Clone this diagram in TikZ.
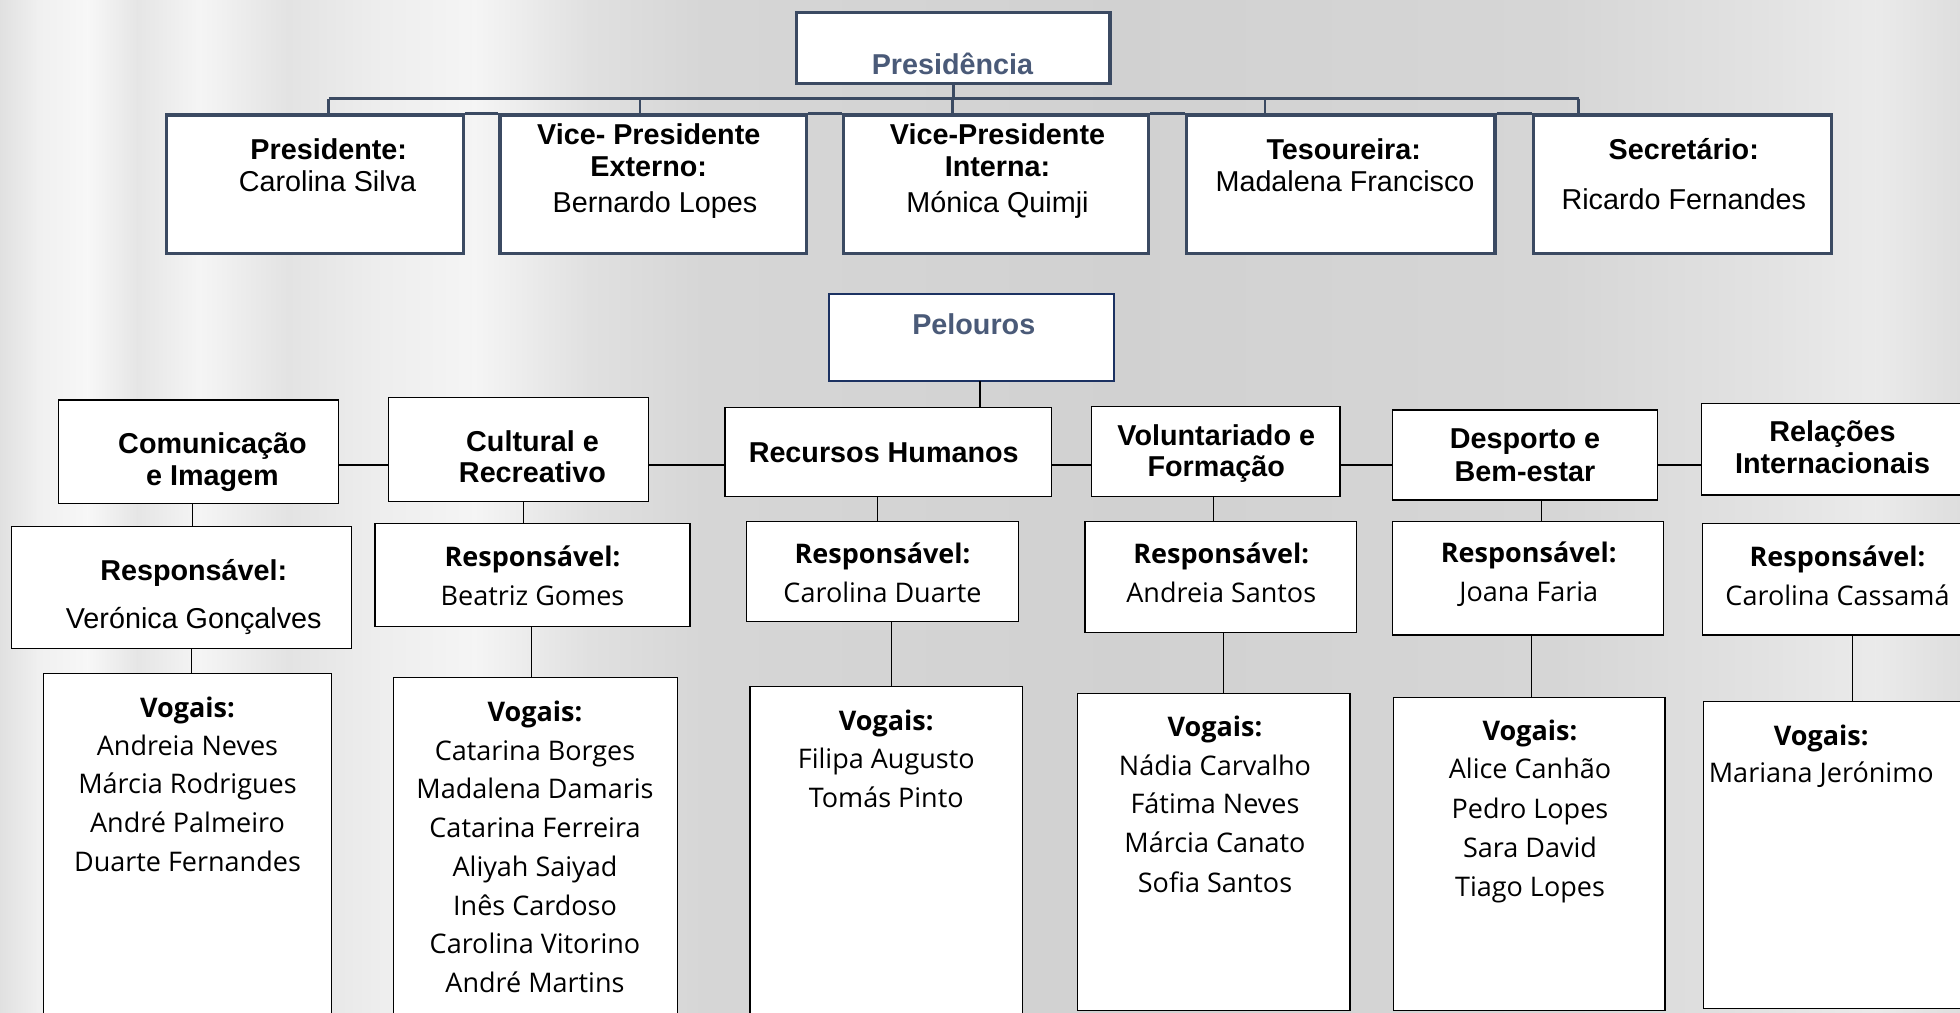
\documentclass[tikz,border=0pt]{standalone}
\usepackage{fontspec}
\setmainfont{Liberation Sans}
\newfontfamily\osans{Open Sans}
\usetikzlibrary{fit}
\definecolor{topc}{HTML}{3B4A62}
\definecolor{presc}{HTML}{4A5A78}
\definecolor{navyc}{HTML}{1C3262}
\newcommand\fA{\fontsize{23}{26}\selectfont}
\newcommand\fO{\osans\fontsize{21.6}{31}\selectfont}
\newcommand\lab[5]{\node[txt,font=#4] (#1) at (#2,{-#3-8}) {#5};}
\begin{document}
\begin{tikzpicture}[x=1pt,y=1pt,
  txt/.style={inner sep=0pt, outer sep=0pt, anchor=base},
  topbox/.style={draw=topc, line width=2.7pt, fill=white, inner sep=0pt},
  pelbox/.style={draw=navyc, line width=1.6pt, fill=white, inner sep=0pt},
  lowbox/.style={draw=black, line width=1.1pt, fill=white, inner sep=0pt},
  topline/.style={draw=topc, line width=2.2pt},
  pline/.style={draw=black, line width=1.1pt}]
\useasboundingbox (0,0) rectangle (1568,-810);
\clip (0,0) rectangle (1568,-810);
% background
\foreach \xa/\xb/\ca/\cb in {0/30/12/6, 30/70/6/3, 70/110/3/10, 110/160/10/4, 160/230/4/11,
  230/300/11/7, 300/380/7/4, 380/470/4/12, 470/560/12/16, 560/900/16/18,
  900/1250/18/16, 1250/1420/16/11, 1420/1500/11/8, 1500/1568/8/13}
  \shade[left color=black!\ca, right color=black!\cb] (\xa,0) rectangle (\xb+0.5,-810);

% top level boxes
\node[topbox, fit={(637,-10)(888,-67)}] (pres) {};
\node[topbox, fit={(133,-92)(371,-203)}] (t1) {};
\node[topbox, fit={(400,-92)(645,-203)}] (t2) {};
\node[topbox, fit={(675,-92)(919,-203)}] (t3) {};
\node[topbox, fit={(949,-92)(1196,-203)}] (t4) {};
\node[topbox, fit={(1227,-92)(1465,-203)}] (t5) {};

% pelouros
\node[pelbox, fit={(663,-235)(891,-305)}] (pel) {};
\node[lowbox, fit={(47,-320)(271,-403)}] (p1) {};
\node[lowbox, fit={(311,-318)(519,-401)}] (p2) {};
\node[lowbox, fit={(580,-326)(841,-397)}] (p3) {};
\node[lowbox, fit={(873,-325)(1072,-397)}] (p4) {};
\node[lowbox, fit={(1114,-328)(1326,-400)}] (p5) {};
\node[lowbox, fit={(1361,-323)(1580,-396)}] (p6) {};

\node[lowbox, fit={(9,-421)(281,-519)}] (r1) {};
\node[lowbox, fit={(300,-419)(552,-501)}] (r2) {};
\node[lowbox, fit={(597,-417)(815,-497)}] (r3) {};
\node[lowbox, fit={(868,-417)(1085,-506)}] (r4) {};
\node[lowbox, fit={(1114,-417)(1331,-508)}] (r5) {};
\node[lowbox, fit={(1362,-419)(1580,-508)}] (r6) {};

\node[lowbox, fit={(35,-539)(265,-814)}] (v1) {};
\node[lowbox, fit={(315,-542)(542,-814)}] (v2) {};
\node[lowbox, fit={(600,-549)(818,-814)}] (v3) {};
\node[lowbox, fit={(862,-555)(1080,-808.5)}] (v4) {};
\node[lowbox, fit={(1115,-558)(1332,-808.5)}] (v5) {};
\node[lowbox, fit={(1363,-561)(1580,-807)}] (v6) {};

% top connectors
\coordinate (barL) at (263,-79);
\coordinate (barR) at (1263,-79);
\coordinate (d2) at (512,-79);
\coordinate (d3) at (762,-79);
\coordinate (d4) at (1012,-79);
\draw[topline] (pres.south) -- (pres.south |- barL);
\draw[topline] (barL) -- (barR);
\draw[topline] (barL) -- (barL |- t1.north);
\draw[topline] (d2) -- (d2 |- t2.north);
\draw[topline] (d3) -- (d3 |- t3.north);
\draw[topline] (d4) -- (d4 |- t4.north);
\draw[topline] (barR) -- (barR |- t5.north);
\draw[draw=topc, line width=2.7pt] (t1.north east) -- (t2.north west);
\draw[draw=topc, line width=2.7pt] (t2.north east) -- (t3.north west);
\draw[draw=topc, line width=2.7pt] (t3.north east) -- (t4.north west);
\draw[draw=topc, line width=2.7pt] (t4.north east) -- (t5.north west);

% pelouro connectors
\coordinate (pc) at (784,-305);
\draw[pline] (pc) -- (pc |- p3.north);
\coordinate (hy) at (0,-372);
\draw[pline] (p1.east |- hy) -- (p2.west |- hy);
\draw[pline] (p2.east |- hy) -- (p3.west |- hy);
\draw[pline] (p3.east |- hy) -- (p4.west |- hy);
\draw[pline] (p4.east |- hy) -- (p5.west |- hy);
\draw[pline] (p5.east |- hy) -- (p6.west |- hy);

\coordinate (c1) at (154,0);
\coordinate (c2) at (419,0);
\coordinate (c3) at (702,0);
\coordinate (c4) at (971,0);
\coordinate (c5) at (1233,0);
\draw[pline] (p1.south -| c1) -- (r1.north -| c1);
\draw[pline] (p2.south -| c2) -- (r2.north -| c2);
\draw[pline] (p3.south -| c3) -- (r3.north -| c3);
\draw[pline] (p4.south -| c4) -- (r4.north -| c4);
\draw[pline] (p5.south -| c5) -- (r5.north -| c5);

\coordinate (e1) at (153,0);
\coordinate (e2) at (425,0);
\coordinate (e3) at (713,0);
\coordinate (e4) at (979,0);
\coordinate (e5) at (1225,0);
\coordinate (e6) at (1482,0);
\draw[pline] (r1.south -| e1) -- (v1.north -| e1);
\draw[pline] (r2.south -| e2) -- (v2.north -| e2);
\draw[pline] (r3.south -| e3) -- (v3.north -| e3);
\draw[pline] (r4.south -| e4) -- (v4.north -| e4);
\draw[pline] (r5.south -| e5) -- (v5.north -| e5);
\draw[pline] (r6.south -| e6) -- (v6.north -| e6);

% texts top
\lab{presT}{762}{52}{\fA\bfseries\color{presc}}{Presidência}
\lab{tt1a}{263}{120}{\fA\bfseries}{Presidente:}
\lab{tt1b}{262}{145}{\fA}{Carolina Silva}
\lab{tt2a}{519}{108}{\fA\bfseries}{Vice- Presidente}
\lab{tt2b}{519}{133}{\fA\bfseries}{Externo:}
\lab{tt2c}{524}{162}{\fA}{Bernardo Lopes}
\lab{tt3a}{798}{108}{\fA\bfseries}{Vice-Presidente}
\lab{tt3b}{798}{133}{\fA\bfseries}{Interna:}
\lab{tt3c}{798}{162}{\fA}{Mónica Quimji}
\lab{tt4a}{1075}{120}{\fA\bfseries}{Tesoureira:}
\lab{tt4b}{1076}{145}{\fA}{Madalena Francisco}
\lab{tt5a}{1347}{120}{\fA\bfseries}{Secretário:}
\lab{tt5b}{1347}{160}{\fA}{Ricardo Fernandes}

\lab{pelT}{779}{260}{\fA\bfseries\color{presc}}{Pelouros}

% pelouro titles
\lab{pt1a}{170}{355}{\fA\bfseries}{Comunicação}
\lab{pt1b}{170}{380}{\fA\bfseries}{e Imagem}
\lab{pt2a}{426}{353}{\fA\bfseries}{Cultural e}
\lab{pt2b}{426}{378}{\fA\bfseries}{Recreativo}
\lab{pt3a}{707}{362}{\fA\bfseries}{Recursos Humanos}
\lab{pt4a}{973}{348}{\fA\bfseries}{Voluntariado e}
\lab{pt4b}{973}{373}{\fA\bfseries}{Formação}
\lab{pt5a}{1220}{351}{\fA\bfseries}{Desporto e}
\lab{pt5b}{1220}{377}{\fA\bfseries}{Bem-estar}
\lab{pt6a}{1466}{345}{\fA\bfseries}{Relações}
\lab{pt6b}{1466}{371}{\fA\bfseries}{Internacionais}

% responsaveis
\lab{rt1a}{155}{456}{\fA\bfseries}{Responsável:}
\lab{rt1b}{155}{495}{\fA}{Verónica Gonçalves}
\lab{rt2a}{426}{445}{\fO\bfseries}{Responsável:}
\lab{rt2b}{426}{476}{\fO}{Beatriz Gomes}
\lab{rt3a}{706}{443}{\fO\bfseries}{Responsável:}
\lab{rt3b}{706}{474}{\fO}{Carolina Duarte}
\lab{rt4a}{977}{443}{\fO\bfseries}{Responsável:}
\lab{rt4b}{977}{474}{\fO}{Andreia Santos}
\lab{rt5a}{1223}{442}{\fO\bfseries}{Responsável:}
\lab{rt5b}{1223}{473}{\fO}{Joana Faria}
\lab{rt6a}{1470}{445}{\fO\bfseries}{Responsável:}
\lab{rt6b}{1470}{476}{\fO}{Carolina Cassamá}

% vogais
\lab{vt1}{150}{566}{\fO\bfseries}{Vogais:}
\lab{vt1a}{150}{596}{\fO}{Andreia Neves}
\lab{vt1b}{150}{627}{\fO}{Márcia Rodrigues}
\lab{vt1c}{150}{658}{\fO}{André Palmeiro}
\lab{vt1d}{150}{689}{\fO}{Duarte Fernandes}

\lab{vt2}{428}{569}{\fO\bfseries}{Vogais:}
\lab{vt2a}{428}{600}{\fO}{Catarina Borges}
\lab{vt2b}{428}{631}{\fO}{Madalena Damaris}
\lab{vt2c}{428}{662}{\fO}{Catarina Ferreira}
\lab{vt2d}{428}{693}{\fO}{Aliyah Saiyad}
\lab{vt2e}{428}{724}{\fO}{Inês Cardoso}
\lab{vt2f}{428}{755}{\fO}{Carolina Vitorino}
\lab{vt2g}{428}{786}{\fO}{André Martins}

\lab{vt3}{709}{576}{\fO\bfseries}{Vogais:}
\lab{vt3a}{709}{607}{\fO}{Filipa Augusto}
\lab{vt3b}{709}{638}{\fO}{Tomás Pinto}

\lab{vt4}{972}{581}{\fO\bfseries}{Vogais:}
\lab{vt4a}{972}{612}{\fO}{Nádia Carvalho}
\lab{vt4b}{972}{643}{\fO}{Fátima Neves}
\lab{vt4c}{972}{674}{\fO}{Márcia Canato}
\lab{vt4d}{972}{706}{\fO}{Sofia Santos}

\lab{vt5}{1224}{584}{\fO\bfseries}{Vogais:}
\lab{vt5a}{1224}{615}{\fO}{Alice Canhão}
\lab{vt5b}{1224}{647}{\fO}{Pedro Lopes}
\lab{vt5c}{1224}{678}{\fO}{Sara David}
\lab{vt5d}{1224}{709}{\fO}{Tiago Lopes}

\lab{vt6}{1457}{588}{\fO\bfseries}{Vogais:}
\lab{vt6a}{1457}{618}{\fO}{Mariana Jerónimo}
\end{tikzpicture}
\end{document}
